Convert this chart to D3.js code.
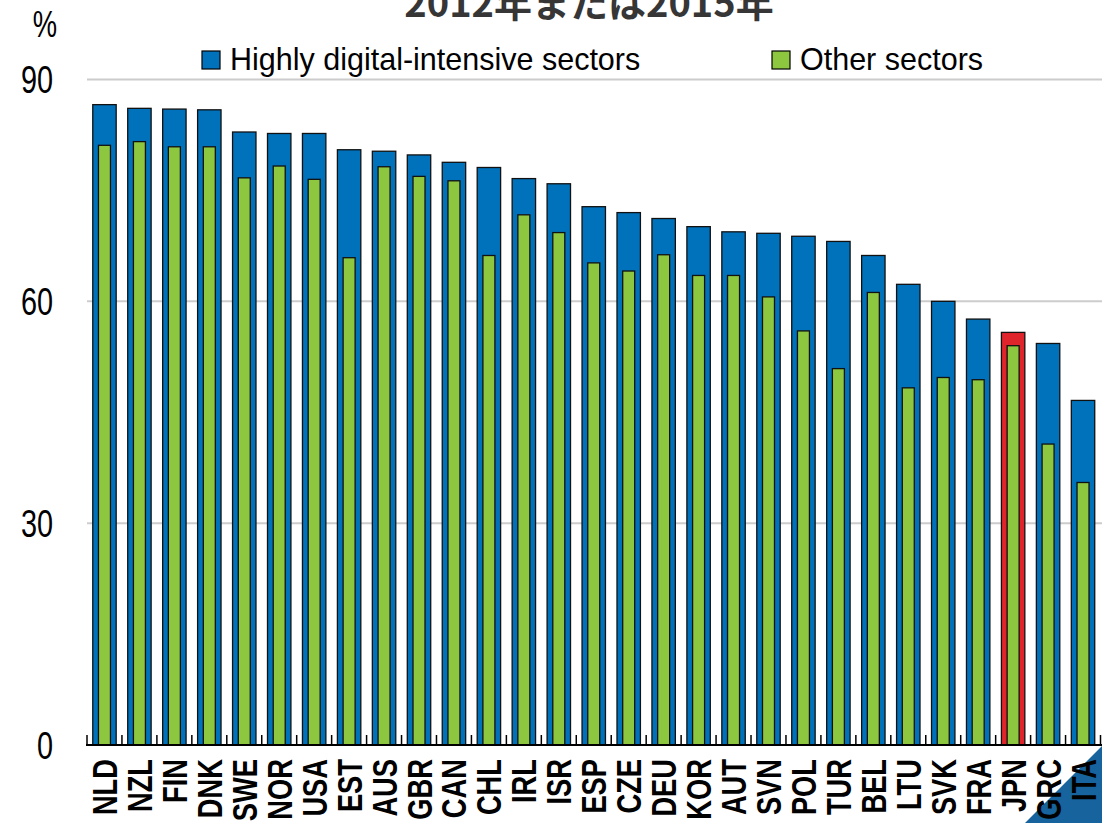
<!DOCTYPE html>
<html>
<head>
<meta charset="utf-8">
<script src="https://cdn.jsdelivr.net/npm/d3@7"></script>
<style>
  html, body { margin: 0; padding: 0; background: #fff; }
  svg { display: block; }
  text { font-family: "Liberation Sans", Arial, sans-serif; }
</style>
</head>
<body>
<script>
const countries = ["NLD","NZL","FIN","DNK","SWE","NOR","USA","EST","AUS","GBR","CAN","CHL","IRL","ISR","ESP","CZE","DEU","KOR","AUT","SVN","POL","TUR","BEL","LTU","SVK","FRA","JPN","GRC","ITA"];
const digitalIntensive = [86.6,86.1,86.0,85.9,82.9,82.7,82.7,80.5,80.3,79.8,78.8,78.1,76.6,75.9,72.8,72.0,71.2,70.1,69.4,69.2,68.8,68.1,66.2,62.3,60.0,57.6,55.8,54.3,46.6];
const otherSectors = [81.1,81.6,80.9,80.9,76.7,78.3,76.5,65.9,78.2,76.9,76.3,66.2,71.7,69.3,65.2,64.1,66.3,63.5,63.5,60.6,56.0,50.9,61.2,48.3,49.7,49.4,54.0,40.7,35.5];
const yTicks = [0, 30, 60, 90];
const highlight = "JPN";
const titleText = "2012年または2015年";
const legendLabels = ["Highly digital-intensive sectors", "Other sectors"];

const W = 1102, H = 823;
const colors = { blue: "#0072bc", green: "#8dc63f", red: "#e0242b", grid: "#cccccc", tri: "#16639e" };

const svg = d3.select("body").append("svg").attr("width", W).attr("height", H);

const x = d3.scaleBand().domain(countries).range([87, 1100.5]).padding(0);
const y = d3.scaleLinear().domain([0, 90]).range([745, 79.5]);

// corner triangle
svg.append("path")
  .attr("d", `M1025,${H} L${W},746 L${W},${H} Z`)
  .attr("fill", colors.tri);

// title (cut off at top, as in the reference)
svg.append("text")
  .attr("x", 589).attr("y", 17)
  .attr("text-anchor", "middle")
  .attr("font-weight", "bold")
  .attr("font-size", 38)
  .attr("fill", "#363636")
  .style("font-family", "'Noto Sans CJK JP', sans-serif")
  .text(titleText);

// % label
svg.append("text")
  .attr("transform", "translate(45,37) scale(0.74,1)")
  .attr("text-anchor", "middle")
  .attr("font-size", 37)
  .attr("fill", "#000")
  .text("%");

// gridlines
svg.append("g").selectAll("line")
  .data(yTicks.filter(d => d > 0))
  .join("line")
  .attr("x1", 87).attr("x2", W)
  .attr("y1", d => y(d)).attr("y2", d => y(d))
  .attr("stroke", colors.grid).attr("stroke-width", 2);

// y labels
svg.append("g").selectAll("text")
  .data(yTicks)
  .join("text")
  .attr("transform", d => `translate(53,${y(d) + 13.5}) scale(0.76,1)`)
  .attr("text-anchor", "end")
  .attr("font-size", 38)
  .attr("fill", "#000")
  .text(d => d);

// legend
const leg = [{x: 202, c: colors.blue, t: legendLabels[0]}, {x: 772, c: colors.green, t: legendLabels[1]}];
const lg = svg.append("g");
leg.forEach(l => {
  lg.append("rect").attr("x", l.x).attr("y", 51).attr("width", 18).attr("height", 18)
    .attr("fill", l.c).attr("stroke", "#000").attr("stroke-width", 1.2);
  lg.append("text").attr("x", l.x + 28).attr("y", 70)
    .attr("font-size", 30.5).attr("fill", "#000").text(l.t);
});

// bars
const bw = x.bandwidth();
const outerW = bw * 0.67, innerW = 12;
const bars = svg.append("g");
bars.selectAll("rect.outer")
  .data(countries)
  .join("rect")
  .attr("class", "outer")
  .attr("x", d => x(d) + (bw - outerW) / 2)
  .attr("width", outerW)
  .attr("y", (d, i) => y(digitalIntensive[i]))
  .attr("height", (d, i) => y(0) - y(digitalIntensive[i]))
  .attr("fill", d => d === highlight ? colors.red : colors.blue)
  .attr("stroke", "#111").attr("stroke-width", 1.3);

bars.selectAll("rect.inner")
  .data(countries)
  .join("rect")
  .attr("class", "inner")
  .attr("x", d => x(d) + (bw - innerW) / 2)
  .attr("width", innerW)
  .attr("y", (d, i) => y(otherSectors[i]))
  .attr("height", (d, i) => y(0) - y(otherSectors[i]))
  .attr("fill", colors.green)
  .attr("stroke", "#111").attr("stroke-width", 1.3);

// x axis line and ticks between categories
const ax = svg.append("g");
ax.append("line").attr("x1", 86).attr("x2", W).attr("y1", 745).attr("y2", 745)
  .attr("stroke", "#000").attr("stroke-width", 2);
const bounds = countries.map(c => x(c)).concat([x.range()[1]]);
ax.selectAll("line.tick").data(bounds).join("line")
  .attr("class", "tick")
  .attr("x1", d => d).attr("x2", d => d)
  .attr("y1", 745).attr("y2", 735)
  .attr("stroke", "#000").attr("stroke-width", 1.5);

// x labels
svg.append("g").selectAll("text")
  .data(countries)
  .join("text")
  .attr("transform", d => `translate(${x(d) + bw / 2 + 12.5},759) rotate(-90) scale(0.78,1)`)
  .attr("text-anchor", "end")
  .attr("font-weight", "bold")
  .attr("font-size", 35)
  .attr("fill", "#000")
  .text(d => d);
</script>
</body>
</html>
